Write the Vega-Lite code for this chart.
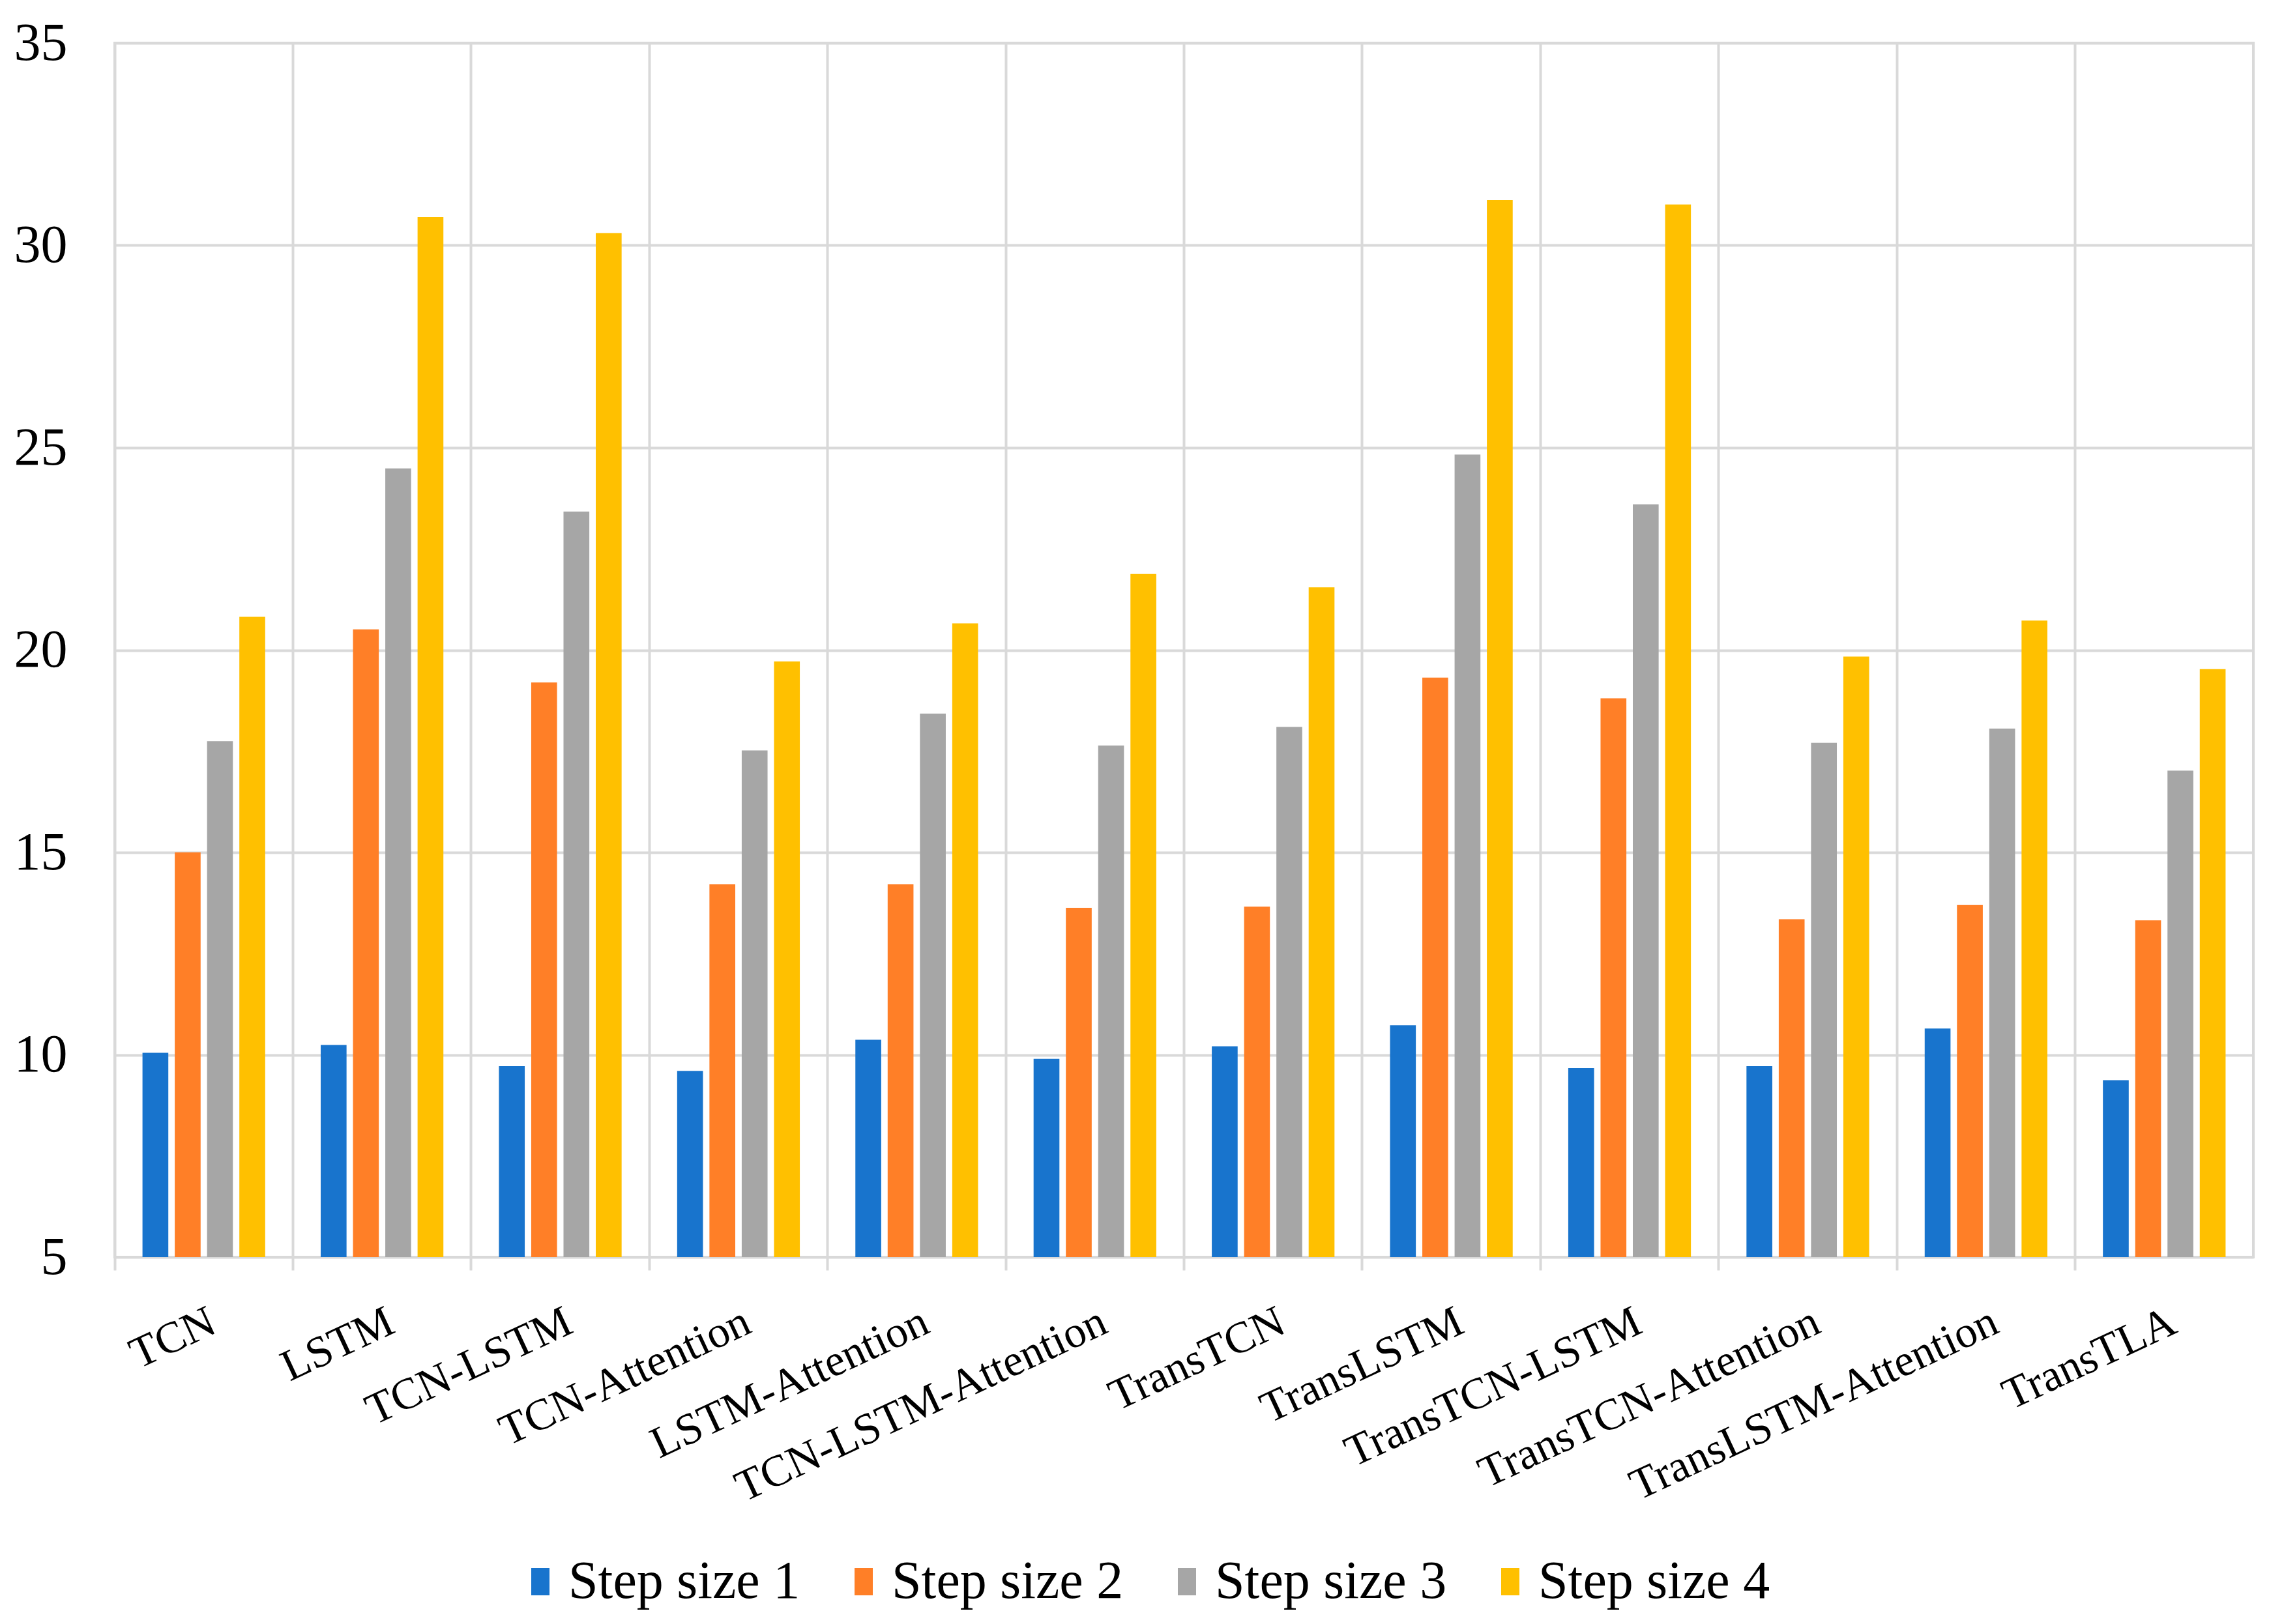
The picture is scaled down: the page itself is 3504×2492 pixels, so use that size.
{
  "$schema": "https://vega.github.io/schema/vega-lite/v6.json",
  "autosize": {"type": "none"},
  "padding": {"left": 176, "top": 66, "right": 47, "bottom": 563},
  "width": 3281,
  "height": 1863,
  "background": "white",
  "data": {"values": [
    {"model": "TCN", "step": "Step size 1", "value": 10.05},
    {"model": "TCN", "step": "Step size 2", "value": 15.0},
    {"model": "TCN", "step": "Step size 3", "value": 17.75},
    {"model": "TCN", "step": "Step size 4", "value": 20.82},
    {"model": "LSTM", "step": "Step size 1", "value": 10.24},
    {"model": "LSTM", "step": "Step size 2", "value": 20.51},
    {"model": "LSTM", "step": "Step size 3", "value": 24.49},
    {"model": "LSTM", "step": "Step size 4", "value": 30.7},
    {"model": "TCN-LSTM", "step": "Step size 1", "value": 9.72},
    {"model": "TCN-LSTM", "step": "Step size 2", "value": 19.2},
    {"model": "TCN-LSTM", "step": "Step size 3", "value": 23.42},
    {"model": "TCN-LSTM", "step": "Step size 4", "value": 30.3},
    {"model": "TCN-Attention", "step": "Step size 1", "value": 9.6},
    {"model": "TCN-Attention", "step": "Step size 2", "value": 14.21},
    {"model": "TCN-Attention", "step": "Step size 3", "value": 17.52},
    {"model": "TCN-Attention", "step": "Step size 4", "value": 19.72},
    {"model": "LSTM-Attention", "step": "Step size 1", "value": 10.37},
    {"model": "LSTM-Attention", "step": "Step size 2", "value": 14.21},
    {"model": "LSTM-Attention", "step": "Step size 3", "value": 18.43},
    {"model": "LSTM-Attention", "step": "Step size 4", "value": 20.66},
    {"model": "TCN-LSTM-Attention", "step": "Step size 1", "value": 9.9},
    {"model": "TCN-LSTM-Attention", "step": "Step size 2", "value": 13.63},
    {"model": "TCN-LSTM-Attention", "step": "Step size 3", "value": 17.64},
    {"model": "TCN-LSTM-Attention", "step": "Step size 4", "value": 21.88},
    {"model": "TransTCN", "step": "Step size 1", "value": 10.21},
    {"model": "TransTCN", "step": "Step size 2", "value": 13.66},
    {"model": "TransTCN", "step": "Step size 3", "value": 18.1},
    {"model": "TransTCN", "step": "Step size 4", "value": 21.55},
    {"model": "TransLSTM", "step": "Step size 1", "value": 10.73},
    {"model": "TransLSTM", "step": "Step size 2", "value": 19.32},
    {"model": "TransLSTM", "step": "Step size 3", "value": 24.83},
    {"model": "TransLSTM", "step": "Step size 4", "value": 31.12},
    {"model": "TransTCN-LSTM", "step": "Step size 1", "value": 9.67},
    {"model": "TransTCN-LSTM", "step": "Step size 2", "value": 18.81},
    {"model": "TransTCN-LSTM", "step": "Step size 3", "value": 23.6},
    {"model": "TransTCN-LSTM", "step": "Step size 4", "value": 31.01},
    {"model": "TransTCN-Attention", "step": "Step size 1", "value": 9.72},
    {"model": "TransTCN-Attention", "step": "Step size 2", "value": 13.35},
    {"model": "TransTCN-Attention", "step": "Step size 3", "value": 17.71},
    {"model": "TransTCN-Attention", "step": "Step size 4", "value": 19.84},
    {"model": "TransLSTM-Attention", "step": "Step size 1", "value": 10.65},
    {"model": "TransLSTM-Attention", "step": "Step size 2", "value": 13.7},
    {"model": "TransLSTM-Attention", "step": "Step size 3", "value": 18.06},
    {"model": "TransLSTM-Attention", "step": "Step size 4", "value": 20.73},
    {"model": "TransTLA", "step": "Step size 1", "value": 9.37},
    {"model": "TransTLA", "step": "Step size 2", "value": 13.32},
    {"model": "TransTLA", "step": "Step size 3", "value": 17.02},
    {"model": "TransTLA", "step": "Step size 4", "value": 19.53}
  ]},
  "mark": {"type": "bar"},
  "encoding": {
    "x": {
      "field": "model",
      "type": "nominal",
      "sort": ["TCN", "LSTM", "TCN-LSTM", "TCN-Attention", "LSTM-Attention", "TCN-LSTM-Attention", "TransTCN", "TransLSTM", "TransTCN-LSTM", "TransTCN-Attention", "TransLSTM-Attention", "TransTLA"],
      "scale": {"paddingInner": 0, "paddingOuter": 0},
      "axis": {
        "title": null,
        "bandPosition": 0,
        "labelAngle": -25,
        "labelAlign": "right",
        "labelBaseline": "top",
        "labelFont": "Liberation Serif",
        "labelFontSize": 68,
        "labelColor": "black",
        "labelPadding": 45,
        "labelLimit": 0,
        "labelOverlap": false,
        "ticks": true,
        "tickSize": 20,
        "tickColor": "#D9D9D9",
        "tickWidth": 4,
        "grid": true,
        "gridColor": "#D9D9D9",
        "gridWidth": 4,
        "domain": false
      }
    },
    "xOffset": {
      "field": "step",
      "type": "nominal",
      "sort": ["Step size 1", "Step size 2", "Step size 3", "Step size 4"],
      "scale": {"paddingInner": 0.2, "paddingOuter": 0.86}
    },
    "y": {
      "field": "value",
      "type": "quantitative",
      "scale": {"domain": [5, 35], "zero": false, "nice": false},
      "axis": {
        "title": null,
        "values": [5, 10, 15, 20, 25, 30, 35],
        "ticks": false,
        "domain": false,
        "labelPadding": 73,
        "labelFont": "Liberation Serif",
        "labelFontSize": 82,
        "labelColor": "black",
        "grid": true,
        "gridColor": "#D9D9D9",
        "gridWidth": 4
      }
    },
    "y2": {"datum": 5},
    "color": {
      "field": "step",
      "type": "nominal",
      "scale": {
        "domain": ["Step size 1", "Step size 2", "Step size 3", "Step size 4"],
        "range": ["#1874CD", "#FF7F27", "#A6A6A6", "#FFC000"]
      },
      "legend": {
        "title": null,
        "orient": "none",
        "legendX": 612,
        "legendY": 2320,
        "direction": "horizontal",
        "symbolType": "M-0.667,-1H0.667V1H-0.667Z",
        "symbolSize": 1764,
        "symbolStrokeWidth": 0,
        "labelFont": "Liberation Serif",
        "labelFontSize": 82,
        "labelColor": "black",
        "labelOffset": 2,
        "labelLimit": 0,
        "columnPadding": 56,
        "padding": 0
      }
    }
  },
  "config": {
    "view": {"stroke": "#D9D9D9", "strokeWidth": 4}
  }
}
